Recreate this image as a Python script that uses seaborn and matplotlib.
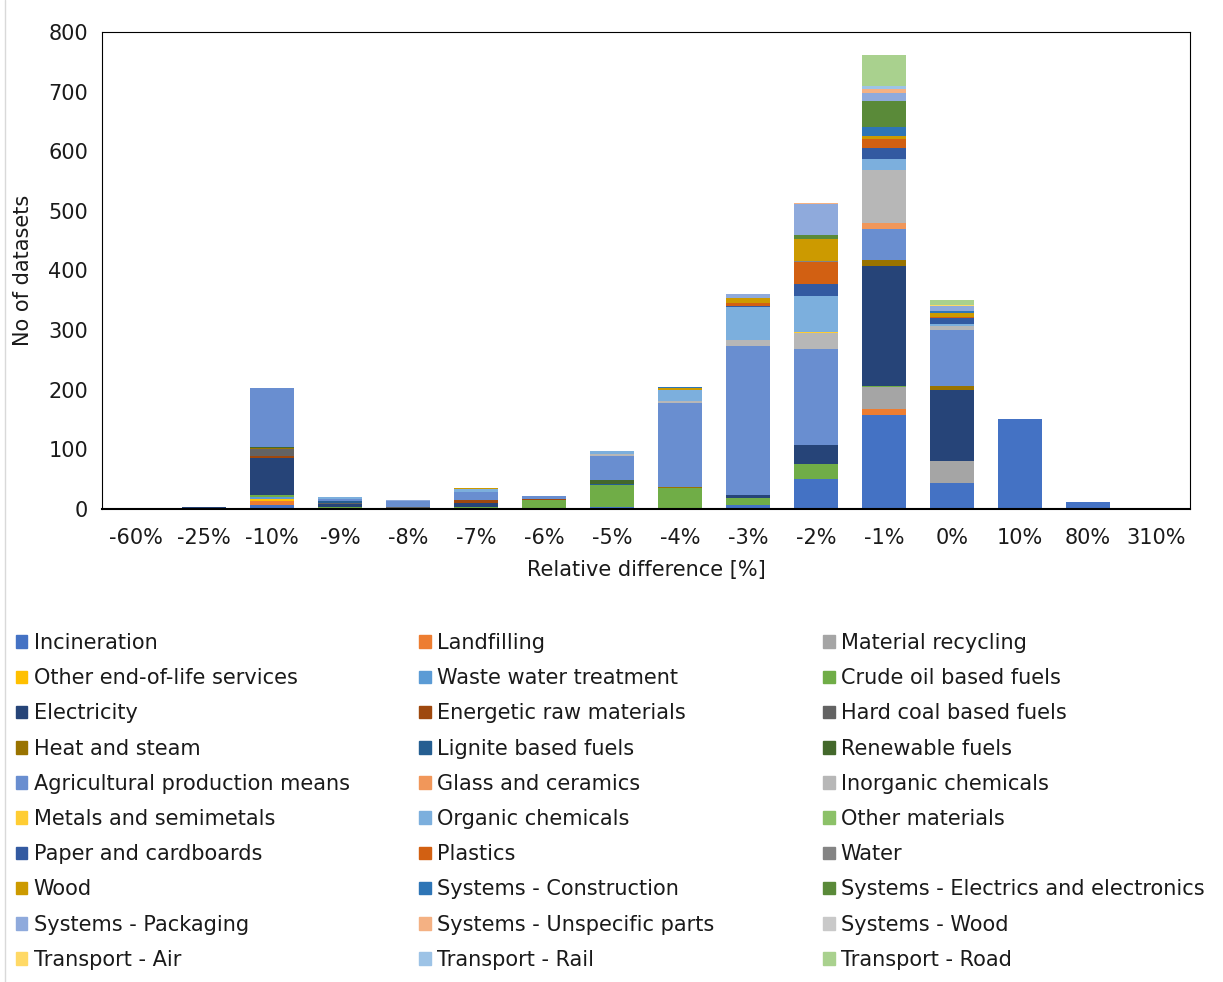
import seaborn as sns
import matplotlib.pyplot as plt
import matplotlib.patches as mpatches
from matplotlib.lines import Line2D
import pandas as pd

# categories on the x axis
categories = ['-60%', '-25%', '-10%', '-9%', '-8%', '-7%', '-6%', '-5%',
              '-4%', '-3%', '-2%', '-1%', '0%', '10%', '80%', '310%']

# series values per category
incineration = [0, 2, 7, 0, 0, 0, 0, 3, 0, 7, 50, 158, 43, 151, 11, 0]
landfilling = [0, 0, 6, 0, 0, 0, 0, 0, 0, 0, 0, 10, 0, 0, 0, 0]
material_recycling = [0, 0, 0, 0, 0, 0, 0, 0, 0, 0, 0, 37, 37, 0, 0, 0]
other_eol = [0, 0, 3, 0, 0, 0, 0, 0, 0, 0, 0, 0, 0, 0, 0, 0]
waste_water = [0, 0, 4, 0, 0, 0, 0, 0, 0, 0, 0, 0, 0, 0, 0, 0]
crude_oil = [0, 0, 3, 4, 0, 3, 15, 37, 35, 12, 25, 2, 0, 0, 0, 0]
electricity = [0, 1, 63, 4, 2, 7, 0, 0, 0, 5, 33, 201, 120, 0, 0, 0]
energetic_raw = [0, 0, 3, 0, 0, 5, 2, 0, 0, 0, 0, 0, 0, 0, 0, 0]
hard_coal = [0, 0, 11, 2, 2, 0, 0, 0, 0, 0, 0, 0, 0, 0, 0, 0]
heat_steam = [0, 0, 2, 0, 0, 0, 0, 0, 2, 0, 0, 10, 7, 0, 0, 0]
lignite = [0, 0, 1, 3, 0, 0, 0, 2, 0, 0, 0, 0, 0, 0, 0, 0]
renewable = [0, 0, 1, 0, 0, 0, 0, 7, 0, 0, 0, 0, 0, 0, 0, 0]
agricultural = [0, 1, 99, 4, 9, 14, 4, 40, 141, 249, 160, 52, 93, 0, 0, 0]
glass = [0, 0, 0, 0, 0, 0, 0, 0, 0, 0, 1, 10, 0, 0, 0, 0]
inorganic = [0, 0, 0, 0, 0, 0, 0, 4, 3, 10, 26, 88, 7, 0, 0, 0]
metals = [0, 0, 0, 0, 0, 0, 0, 0, 0, 0, 2, 0, 0, 0, 0, 0]
organic = [0, 0, 0, 3, 0, 4, 1, 5, 19, 56, 61, 19, 4, 0, 0, 0]
other_materials = [0, 0, 0, 0, 0, 0, 0, 0, 0, 0, 0, 0, 0, 0, 0, 0]
paper = [0, 0, 0, 0, 0, 0, 0, 0, 0, 1, 20, 19, 9, 0, 0, 0]
plastics = [0, 0, 0, 0, 0, 0, 0, 0, 0, 5, 36, 15, 2, 0, 0, 0]
water = [0, 0, 0, 0, 0, 0, 0, 0, 0, 0, 2, 0, 0, 0, 0, 0]
wood = [0, 0, 0, 0, 0, 2, 0, 0, 3, 9, 36, 5, 7, 0, 0, 0]
sys_construction = [0, 0, 0, 0, 0, 0, 0, 0, 2, 0, 0, 15, 3, 0, 0, 0]
sys_electrics = [0, 0, 0, 0, 0, 0, 0, 0, 0, 0, 7, 43, 0, 0, 0, 0]
sys_packaging = [0, 0, 0, 0, 2, 0, 0, 0, 0, 6, 53, 13, 8, 0, 0, 0]
sys_unspecific = [0, 0, 0, 0, 0, 0, 0, 0, 0, 0, 2, 8, 0, 0, 0, 0]
sys_wood = [0, 0, 0, 0, 0, 0, 0, 0, 0, 0, 0, 0, 0, 0, 0, 0]
transport_air = [0, 0, 0, 0, 0, 0, 0, 0, 0, 0, 0, 0, 2, 0, 0, 0]
transport_rail = [0, 0, 0, 0, 0, 0, 0, 0, 0, 0, 0, 4, 0, 0, 0, 0]
transport_road = [0, 0, 0, 0, 0, 0, 0, 0, 0, 0, 0, 52, 8, 0, 0, 0]

names = ['Incineration', 'Landfilling', 'Material recycling',
         'Other end-of-life services', 'Waste water treatment', 'Crude oil based fuels',
         'Electricity', 'Energetic raw materials', 'Hard coal based fuels',
         'Heat and steam', 'Lignite based fuels', 'Renewable fuels',
         'Agricultural production means', 'Glass and ceramics', 'Inorganic chemicals',
         'Metals and semimetals', 'Organic chemicals', 'Other materials',
         'Paper and cardboards', 'Plastics', 'Water',
         'Wood', 'Systems - Construction', 'Systems - Electrics and electronics',
         'Systems - Packaging', 'Systems - Unspecific parts', 'Systems - Wood',
         'Transport - Air', 'Transport - Rail', 'Transport - Road']
values = [incineration, landfilling, material_recycling, other_eol, waste_water, crude_oil,
          electricity, energetic_raw, hard_coal, heat_steam, lignite, renewable,
          agricultural, glass, inorganic, metals, organic, other_materials,
          paper, plastics, water, wood, sys_construction, sys_electrics,
          sys_packaging, sys_unspecific, sys_wood, transport_air, transport_rail, transport_road]
colors = ['#4472C4', '#ED7D31', '#A5A5A5', '#FFC000', '#5B9BD5', '#70AD47',
          '#264478', '#9E480E', '#636363', '#997300', '#255E91', '#43682B',
          '#698ED0', '#F1975A', '#B7B7B7', '#FFCD33', '#7CAFDD', '#8CC168',
          '#335AA1', '#D26012', '#848484', '#CC9A00', '#2E75B6', '#5A8A39',
          '#8FAADC', '#F4B183', '#C9C9C9', '#FFD966', '#9DC3E6', '#A9D18E']

rows = []
for name, vals in zip(names, values):
    for cat, v in zip(categories, vals):
        rows.append({'cat': cat, 'series': name, 'n': v})
df = pd.DataFrame(rows)

sns.set_theme(style='white')
plt.rcParams['font.family'] = ['DejaVu Sans']
txt = '#1a1a1a'

fig = plt.figure(figsize=(12.23, 9.82), dpi=100)
ax = fig.add_axes([0.0834, 0.4817, 0.8896, 0.4857])

# seaborn stacks the last hue level at the bottom, so reverse the order
sns.histplot(data=df, x='cat', hue='series', weights='n', multiple='stack',
             hue_order=names[::-1], palette=dict(zip(names, colors)),
             discrete=True, shrink=0.66, linewidth=0, alpha=1,
             legend=False, ax=ax)

ax.set_xlim(-0.5, len(categories) - 0.5)
ax.set_ylim(0, 800)
ax.set_yticks(range(0, 801, 100))
ax.set_xticks(range(len(categories)))
ax.set_xticklabels(categories)
ax.tick_params(axis='both', labelsize=15, length=0, colors=txt)
ax.tick_params(axis='x', pad=14)
ax.tick_params(axis='y', pad=10)
ax.set_xlabel('Relative difference [%]', fontsize=15, labelpad=8, color=txt)
ax.set_ylabel('No of datasets', fontsize=15, labelpad=11, color=txt)
for s in ax.spines.values():
    s.set_color('black')
    s.set_linewidth(0.8)
ax.spines['bottom'].set_linewidth(1.5)

# legend: three separate columns, read row by row
handles = [mpatches.Patch(color=c, label=n) for n, c in zip(names, colors)]
col_x = [0.013, 0.343, 0.673]
for i in range(3):
    leg = fig.legend(handles=handles[i::3], loc='upper left',
                     bbox_to_anchor=(col_x[i], 0.3554), frameon=False, fontsize=15,
                     handlelength=0.55, handleheight=0.55, handletextpad=0.3,
                     labelspacing=0.73, borderaxespad=0, borderpad=0)
    for t in leg.get_texts():
        t.set_color(txt)

fig.add_artist(Line2D([0.004, 0.004], [0, 1], transform=fig.transFigure,
                      color='#D9D9D9', linewidth=1))

fig.savefig('out.png', dpi=100)
